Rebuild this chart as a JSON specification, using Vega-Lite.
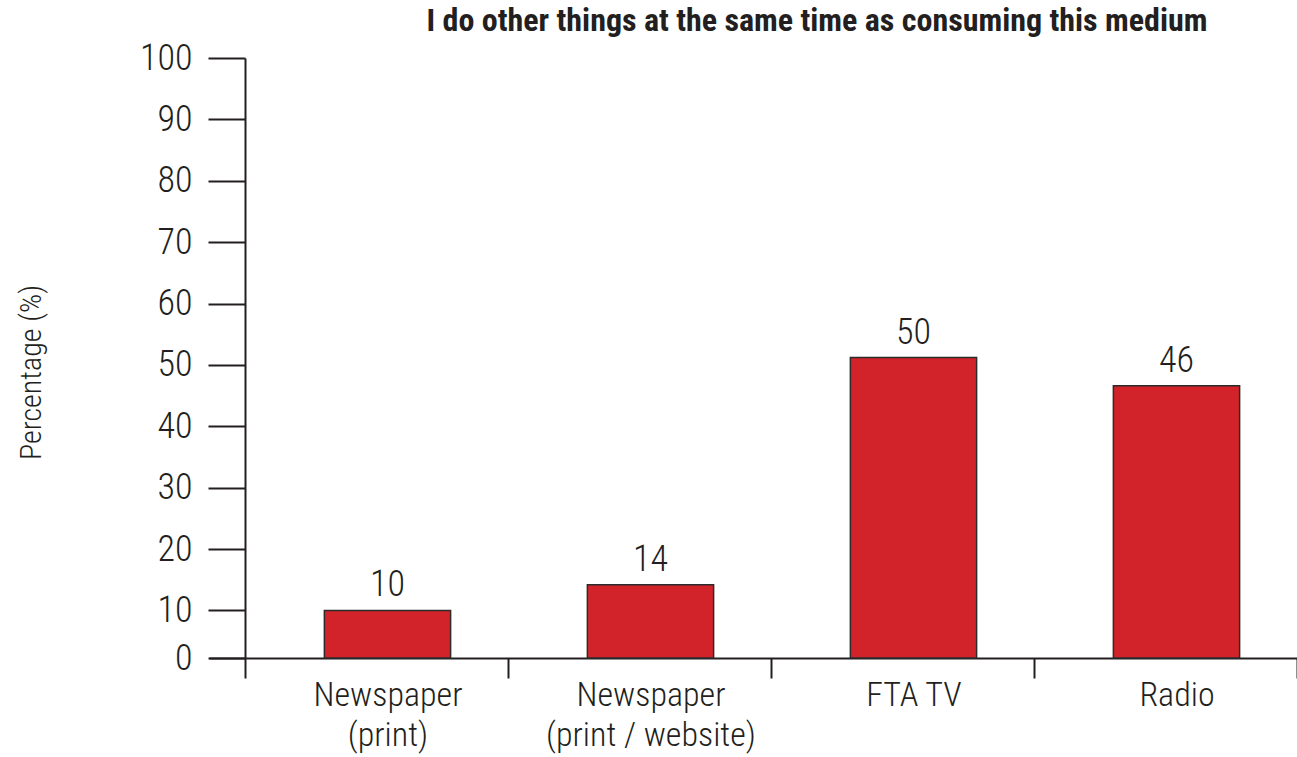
{
  "$schema": "https://vega.github.io/schema/vega-lite/v6.json",
  "width": 1088,
  "height": 600,
  "autosize": {"type": "none"},
  "padding": {"left": 209, "top": 58, "right": 0, "bottom": 99},
  "background": "white",
  "config": {
    "view": {"stroke": null},
    "font": "'Roboto Condensed', 'Liberation Sans Narrow', 'DejaVu Sans Condensed', sans-serif"
  },
  "title": {
    "text": "I do other things at the same time as consuming this medium",
    "fontSize": 32,
    "fontWeight": "bold",
    "color": "#231f20",
    "anchor": "middle",
    "dx": 64,
    "baseline": "alphabetic",
    "offset": -23
  },
  "data": {
    "values": [
      {"medium": "Newspaper\n(print)", "value": 10.0, "label": "10"},
      {"medium": "Newspaper\n(print / website)", "value": 14.2, "label": "14"},
      {"medium": "FTA TV", "value": 51.2, "label": "50"},
      {"medium": "Radio", "value": 46.6, "label": "46"}
    ]
  },
  "encoding": {
    "x": {
      "field": "medium",
      "type": "nominal",
      "sort": null,
      "scale": {"paddingInner": 0, "paddingOuter": 0.0684, "align": 1},
      "axis": {
        "title": null,
        "labelAngle": 0,
        "labelExpr": "split(datum.label, '\\n')",
        "labelFontSize": 34,
        "labelFontWeight": 300,
        "labelLimit": 0,
        "labelColor": "#231f20",
        "labelLineHeight": 40,
        "labelPadding": 0,
        "labelOffset": 11,
        "domainColor": "#231f20",
        "domainWidth": 2,
        "tickColor": "#231f20",
        "tickWidth": 2,
        "tickSize": 20,
        "tickBand": "extent",
        "grid": false
      }
    },
    "y": {
      "field": "value",
      "type": "quantitative",
      "scale": {"domain": [2.25, 100], "clamp": true, "nice": false, "zero": false},
      "axis": {
        "offset": -36,
        "values": [2.25, 10, 20, 30, 40, 50, 60, 70, 80, 90, 100],
        "labelExpr": "datum.value < 5 ? '0' : datum.label",
        "tickSize": 37,
        "tickWidth": 2,
        "tickColor": "#231f20",
        "domainColor": "#231f20",
        "domainWidth": 2,
        "labelPadding": 16,
        "labelFontSize": 36,
        "labelFontWeight": 300,
        "labelColor": "#231f20",
        "grid": false,
        "title": "Percentage (%)",
        "titleFontSize": 30,
        "titleFontWeight": 300,
        "titleColor": "#231f20",
        "titleX": -214,
        "titleY": 314,
        "titleAngle": -90,
        "titleAlign": "center",
        "titleBaseline": "middle"
      }
    }
  },
  "layer": [
    {
      "mark": {"type": "bar", "color": "#d2232a", "stroke": "#2b2b2b", "strokeWidth": 1.5, "width": {"band": 0.48}, "xOffset": 11}
    },
    {
      "mark": {"type": "text", "dx": 11, "dy": -14, "baseline": "alphabetic", "fontSize": 36, "fontWeight": 300, "color": "#231f20"},
      "encoding": {"text": {"field": "label"}}
    }
  ]
}
